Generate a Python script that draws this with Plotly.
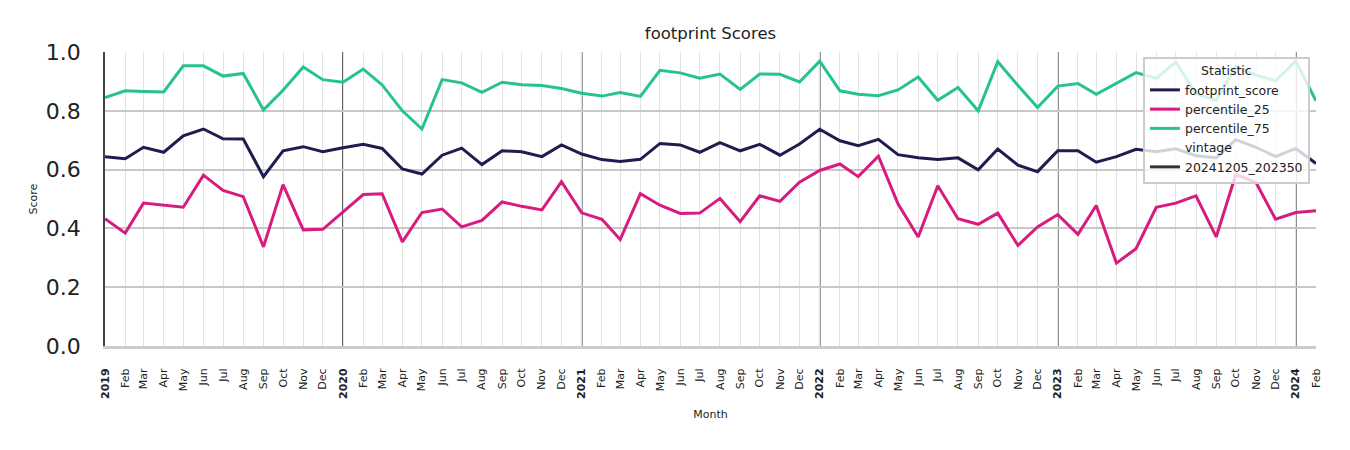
import pandas as pd
import plotly.graph_objects as go

# monthly series, Jan 2019 .. Feb 2024
months = pd.date_range("2019-01-01", periods=62, freq="MS")

footprint_score = [
    0.644, 0.637, 0.676, 0.659, 0.715, 0.738, 0.705, 0.704, 0.576, 0.664, 0.678, 0.661,
    0.674, 0.686, 0.672, 0.602, 0.585, 0.649, 0.673, 0.617, 0.664, 0.661, 0.644, 0.684,
    0.653, 0.634, 0.628, 0.635, 0.689, 0.684, 0.659, 0.692, 0.664, 0.686, 0.649, 0.687,
    0.737, 0.698, 0.681, 0.703, 0.651, 0.640, 0.634, 0.640, 0.599, 0.670, 0.615, 0.593,
    0.664, 0.664, 0.625, 0.644, 0.669, 0.661, 0.671, 0.647, 0.640, 0.702, 0.676, 0.644,
    0.672, 0.621,
]
percentile_25 = [
    0.433, 0.384, 0.486, 0.478, 0.472, 0.581, 0.529, 0.508, 0.337, 0.549, 0.395, 0.397,
    0.455, 0.515, 0.518, 0.354, 0.454, 0.466, 0.405, 0.427, 0.490, 0.475, 0.463, 0.559,
    0.453, 0.431, 0.362, 0.518, 0.479, 0.451, 0.452, 0.502, 0.423, 0.511, 0.492, 0.557,
    0.597, 0.619, 0.576, 0.646, 0.484, 0.371, 0.545, 0.433, 0.414, 0.452, 0.342, 0.405,
    0.447, 0.380, 0.478, 0.282, 0.331, 0.472, 0.486, 0.511, 0.371, 0.583, 0.556, 0.431,
    0.454, 0.460,
]
percentile_75 = [
    0.845, 0.868, 0.866, 0.864, 0.953, 0.953, 0.918, 0.927, 0.803, 0.870, 0.949, 0.906,
    0.897, 0.942, 0.888, 0.800, 0.738, 0.906, 0.895, 0.863, 0.897, 0.889, 0.886, 0.876,
    0.860, 0.850, 0.862, 0.849, 0.938, 0.929, 0.911, 0.925, 0.873, 0.925, 0.924, 0.898,
    0.969, 0.868, 0.856, 0.851, 0.871, 0.915, 0.836, 0.879, 0.800, 0.967, 0.886, 0.811,
    0.884, 0.893, 0.856, 0.893, 0.930, 0.910, 0.966, 0.857, 0.836, 0.950, 0.921, 0.902,
    0.969, 0.834,
]

series = [
    ("footprint_score", footprint_score, "#1d1d4f"),
    ("percentile_25", percentile_25, "#d81b7e"),
    ("percentile_75", percentile_75, "#27c38e"),
]

tick_text = [f"<b>{d.year}</b>" if d.month == 1 else d.strftime("%b") for d in months]
year_starts = [d for d in months if d.month == 1 and d != months[0]]

fig = go.Figure()

for name, values, color in series:
    fig.add_trace(
        go.Scatter(x=months, y=values, mode="lines", name=name,
                   line=dict(color=color, width=3))
    )

# legend-only entries for the vintage block
fig.add_trace(go.Scatter(x=[None], y=[None], mode="lines", name="vintage",
                         line=dict(color="rgba(0,0,0,0)", width=3)))
fig.add_trace(go.Scatter(x=[None], y=[None], mode="lines", name="20241205_202350",
                         line=dict(color="#333333", width=3)))

# dark vertical lines at each new year
for d in year_starts:
    fig.add_shape(type="line", xref="x", yref="paper", x0=d, x1=d, y0=0, y1=1,
                  line=dict(color="#2a2a2a", width=1.5), layer="between")

# page body has an 8px margin, so the figure is sized to fit the window
fig.update_layout(
    width=1342,
    height=442,
    margin=dict(l=97, r=34, t=44, b=104),
    font=dict(family="DejaVu Sans", color="#222222"),
    paper_bgcolor="white",
    plot_bgcolor="white",
    title=dict(text="footprint Scores", x=0.5, xref="paper", y=0.943, yanchor="middle",
               font=dict(size=16.5, color="#222222")),
    xaxis=dict(
        range=[months[0], months[-1]],
        tickmode="array",
        tickvals=list(months),
        ticktext=tick_text,
        tickangle=-90,
        tickfont=dict(size=11, color="#222222"),
        ticks="",
        ticklabelstandoff=15,
        showgrid=True,
        gridcolor="#e3e3e3",
        gridwidth=1,
        showline=True,
        linecolor="#cccccc",
        linewidth=3,
        zeroline=False,
        title=dict(text="Month", font=dict(size=11), standoff=13),
    ),
    yaxis=dict(
        range=[0, 1.0],
        tickvals=[0, 0.2, 0.4, 0.6, 0.8, 1.0],
        tickformat=".1f",
        tickfont=dict(size=22, color="#222222"),
        ticks="",
        ticklabelstandoff=18,
        showgrid=True,
        gridcolor="#c8c8c8",
        gridwidth=2,
        showline=True,
        linecolor="#444444",
        linewidth=1.5,
        zeroline=False,
        title=dict(text="Score", font=dict(size=11), standoff=6),
    ),
    legend=dict(
        title=dict(text="Statistic", side="top center", font=dict(size=12.5)),
        x=0.995, y=0.983, xanchor="right", yanchor="top",
        bgcolor="rgba(255,255,255,0.8)",
        bordercolor="#cccccc",
        borderwidth=2,
        font=dict(size=12.5, color="#222222"),
        itemwidth=30,
        tracegroupgap=0,
    ),
)

fig.write_html("out.html")
